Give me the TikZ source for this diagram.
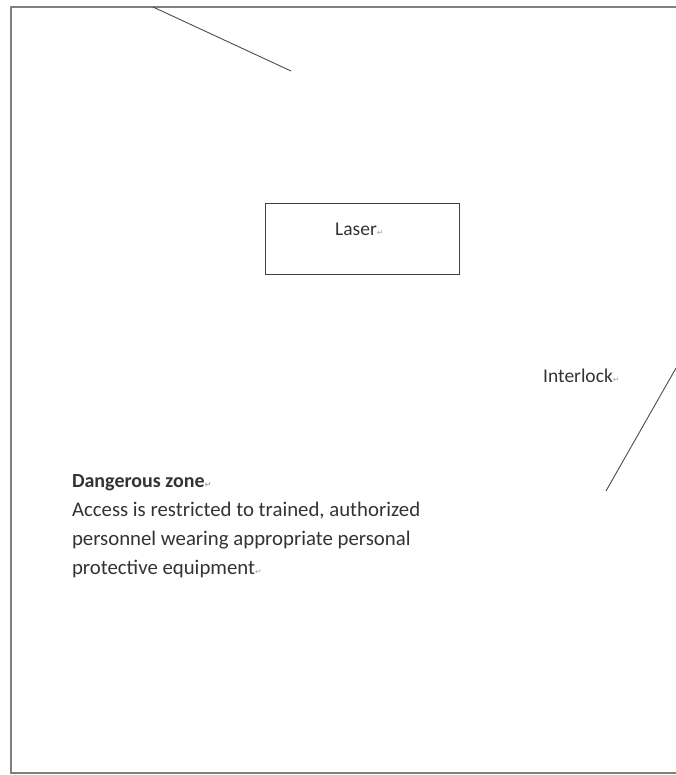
\documentclass[tikz,border=0pt]{standalone}
\usepackage{fontspec}
\setmainfont{Carlito}
\newfontfamily\marksfont{DejaVu Sans}
\usetikzlibrary{positioning}

\newcommand{\parmark}{{\marksfont\color{black!35}\fontsize{8}{8}\selectfont ↵}}

\begin{document}
\begin{tikzpicture}[x=1pt, y=-1pt,
    frame/.style={draw=black!50, line width=1.2pt},
    boxnode/.style={draw=black!75, line width=0.8pt, minimum width=194pt, minimum height=71pt, inner sep=0pt},
    lbl/.style={font=\fontsize{19.5}{23}\selectfont, text=black!80, inner sep=0pt},
    wire/.style={draw=black!70, line width=0.9pt}
]
\useasboundingbox (0,0) rectangle (675,775);
% outer frame, open on the right
\draw[frame] (680,7) -- (11,7) -- (11,773) -- (680,773);

% laser box
\node[boxnode] (laser) at (362,239) {};
\node[lbl, anchor=base west] (laserlbl) at (335,236) {Laser\parmark};

% interlock
\node[lbl, anchor=base west] (interlock) at (543,382) {Interlock\parmark};

% dangerous zone text (baseline of the last line)
\node[lbl, anchor=text, align=left, font=\fontsize{20.8}{29}\selectfont] (zone) at (72,574)
  {{\fontsize{20}{29}\selectfont\bfseries Dangerous zone\parmark}\\
   Access is restricted to trained, authorized\\
   personnel wearing appropriate personal\\
   protective equipment\parmark};

% beam lines
\coordinate (b1) at (153,7);
\coordinate (b2) at (291,71);
\coordinate (c1) at (676,368);
\coordinate (c2) at (606,491);
\draw[wire] (b1) -- (b2);
\draw[wire] (c1) -- (c2);
\end{tikzpicture}
\end{document}
